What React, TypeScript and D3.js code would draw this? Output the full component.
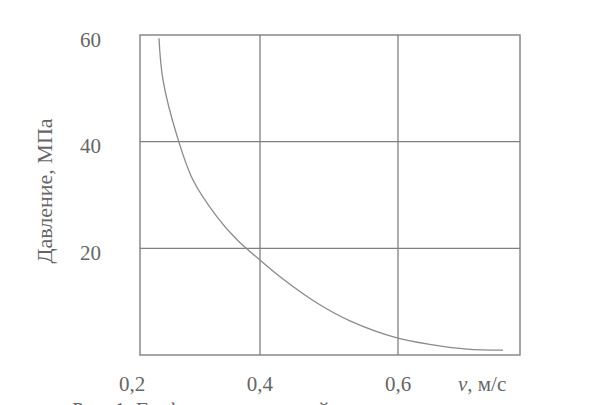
import React from "react";
import * as d3 from "d3";

// Curve data: speed v (m/s) vs pressure (MPa)
const speed = [0.2536, 0.2594, 0.2797, 0.3029, 0.3377, 0.3667, 0.4, 0.4333, 0.4826, 0.5304, 0.5986, 0.6507, 0.7, 0.7522];
const pressure = [59.4, 51.6, 41.1, 32.8, 25.9, 21.6, 17.8, 14.25, 9.75, 6.4, 3.2, 1.9, 1.1, 0.9];

const xTicks = [0.2, 0.4, 0.6];
const xTickLabels = ["0,2", "0,4", "0,6"];
const xGrid = [0.4, 0.6];
const yTicks = [20, 40, 60];
const yTickLabels = ["20", "40", "60"];
const yGrid = [20, 40];
const xDomain = [0.2261, 0.7768];
const yDomain = [0, 60];

const yTitle = "Давление, МПа";
const xTitleVar = "v";
const xTitleUnit = ", м/с";
const caption = "Рис. 1. График зависимостей давления от скорости";

const W = 613;
const H = 405;
const M = { left: 140, right: 93, top: 35, bottom: 50 };

export default function App() {
  const x = d3.scaleLinear().domain(xDomain).range([M.left, W - M.right]);
  const y = d3.scaleLinear().domain(yDomain).range([H - M.bottom, M.top]);
  const pts = speed.map((v, i) => [v, pressure[i]] as [number, number]);
  const line = d3
    .line<[number, number]>()
    .x((d) => x(d[0]))
    .y((d) => y(d[1]))
    .curve(d3.curveCatmullRom.alpha(0.5));

  const stroke = "#808080";
  const textFill = "#666";
  const font = "'Liberation Serif', 'Times New Roman', serif";
  const x0 = x(xDomain[0]);
  const x1 = x(xDomain[1]);
  const y0 = y(yDomain[0]);
  const y1 = y(yDomain[1]);

  return (
    <svg
      width={W}
      height={H}
      style={{ position: "absolute", left: 0, top: 0, background: "#fff" }}
      fontFamily={font}
    >
      <rect x={0} y={0} width={W} height={H} fill="#fff" />
      {xGrid.map((v) => (
        <line key={"gx" + v} x1={x(v)} x2={x(v)} y1={y0} y2={y1} stroke={stroke} strokeWidth={1.3} />
      ))}
      {yGrid.map((v) => (
        <line key={"gy" + v} x1={x0} x2={x1} y1={y(v)} y2={y(v)} stroke={stroke} strokeWidth={1.3} />
      ))}
      <rect x={x0} y={y1} width={x1 - x0} height={y0 - y1} fill="none" stroke={stroke} strokeWidth={1.4} />
      <path d={line(pts) || ""} fill="none" stroke="#8a8a8a" strokeWidth={1.3} />

      {yTicks.map((v, i) => (
        <text
          key={"yt" + v}
          x={x0 - 39}
          y={y(v) + 7}
          textAnchor="end"
          dominantBaseline="middle"
          fontSize={21}
          fill={textFill}
        >
          {yTickLabels[i]}
        </text>
      ))}
      {xTicks.map((v, i) => (
        <text
          key={"xt" + v}
          x={Math.max(x(v), x0 - 8)}
          y={y0 + 31}
          textAnchor="middle"
          dominantBaseline="middle"
          fontSize={21}
          fill={textFill}
        >
          {xTickLabels[i]}
        </text>
      ))}
      <text x={x1 - 62} y={y0 + 31} dominantBaseline="middle" fontSize={21} fill={textFill}>
        <tspan fontStyle="italic">{xTitleVar}</tspan>
        <tspan>{xTitleUnit}</tspan>
      </text>
      <text
        transform={`translate(${x0 - 93},${(y0 + y1) / 2 - 4}) rotate(-90)`}
        textAnchor="middle"
        dominantBaseline="middle"
        fontSize={22}
        fill={textFill}
      >
        {yTitle}
      </text>
      <text x={72} y={H + 12} fontSize={21} fill={textFill}>
        {caption}
      </text>
    </svg>
  );
}
